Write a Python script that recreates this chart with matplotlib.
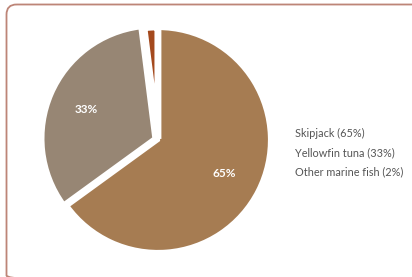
import matplotlib
matplotlib.use("Agg")
import matplotlib.pyplot as plt
from matplotlib.patches import FancyBboxPatch

# Catch composition
species = ["Skipjack", "Yellowfin tuna", "Other marine fish"]
shares = [65, 33, 2]
colors = ["#a67c52", "#978674", "#a4491d"]

plt.rcParams['font.family'] = ['Lato', 'DejaVu Sans']

W, H = 412, 277
fig = plt.figure(figsize=(W / 100, H / 100), dpi=100)

# overlay in pixel units for the rounded frame
bg = fig.add_axes([0, 0, 1, 1])
bg.set_xlim(0, W)
bg.set_ylim(H, 0)
bg.axis("off")
bg.add_patch(FancyBboxPatch((6.5, 4.5), 420, 281,
                            boxstyle="round,pad=0,rounding_size=10",
                            fill=False, edgecolor="#bd8577", linewidth=1.3))

cx, cy, r = 158, 140, 112
ax = fig.add_axes([(cx - r) / W, (H - cy - r) / H, 2 * r / W, 2 * r / H])

def pct(p):
    return f"{p:.0f}%" if p > 5 else ""

wedges, texts, autotexts = ax.pie(
    shares, colors=colors, startangle=90, counterclock=False,
    explode=[0, 0.035, 0.01], autopct=pct, pctdistance=0.66,
    wedgeprops=dict(edgecolor="white", linewidth=3),
    textprops=dict(color="white", fontsize=8.5, fontweight="bold"))
wedges[2].set_linewidth(5)
ax.set_xlim(-1, 1)
ax.set_ylim(-1, 1)
ax.set_aspect("equal")
ax.axis("off")

labels = [f"{s} ({v}%)" for s, v in zip(species, shares)]
leg = fig.legend(wedges, labels, loc="center left",
                 bbox_to_anchor=(286 / W, 1 - 153 / H), frameon=False,
                 borderpad=0, handlelength=0, handleheight=0,
                 handletextpad=0.3, labelspacing=0.75, fontsize=7.8,
                 labelcolor="#555555")
for h in leg.legend_handles:
    h.set_visible(False)

fig.savefig("out.png", dpi=100)
